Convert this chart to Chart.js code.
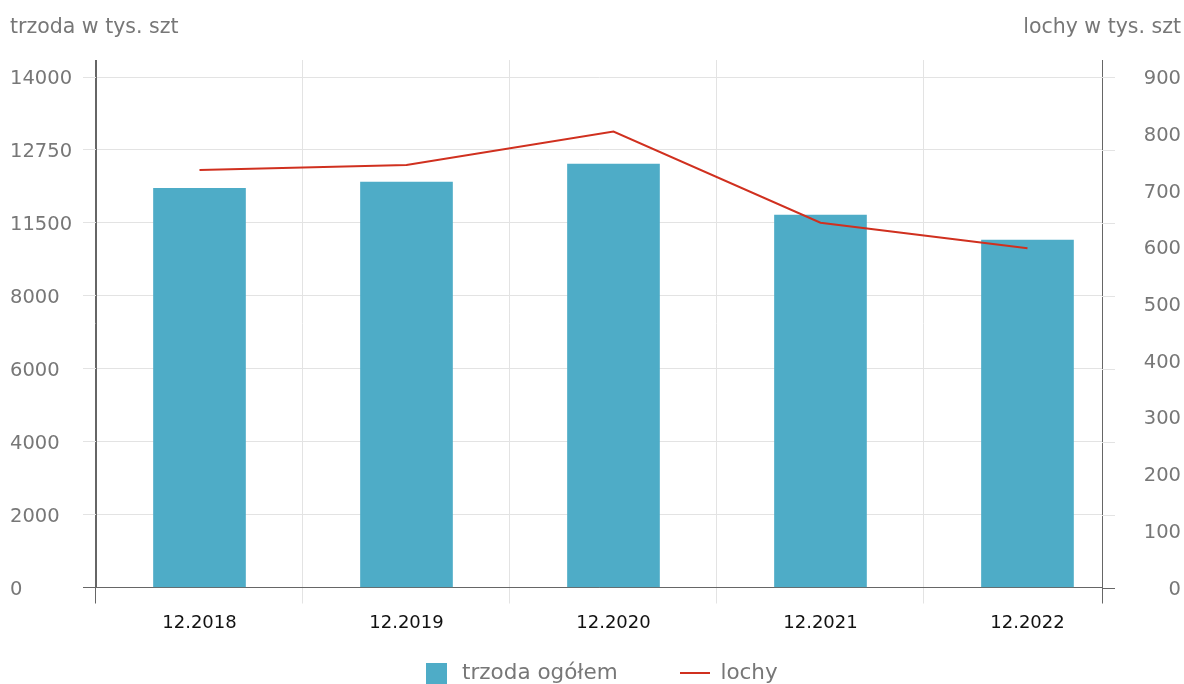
<!DOCTYPE html>
<html>
<head>
<meta charset="utf-8">
<script src="https://cdn.jsdelivr.net/npm/chart.js@4.4.1/dist/chart.umd.min.js"></script>
<style>
  html, body { margin: 0; padding: 0; background: #fff; overflow: hidden; }
  #wrap { position: relative; width: 1184px; height: 743px; }
  .unit { position: absolute; top: 13px; font: 20.5px "DejaVu Sans", sans-serif; color: #777; line-height: 26px; }
  #unitL { left: 10px; }
  #unitR { right: 3px; }
</style>
</head>
<body>
<div id="wrap">
  <canvas id="myChart" width="1184" height="743"></canvas>
  <div class="unit" id="unitL">trzoda w tys. szt</div>
  <div class="unit" id="unitR">lochy w tys. szt</div>
</div>
<script>
'use strict';
// data
const categories = ['12.2018', '12.2019', '12.2020', '12.2021', '12.2022'];
const trzoda = [10950, 11120, 11610, 10215, 9530];
const lochy = [736, 745, 804, 643, 598];
const leftTicks = [0, 2000, 4000, 6000, 8000, 10000, 12000, 14000];
const leftTickLabels = ['0', '2000', '4000', '6000', '8000', '11500', '12750', '14000'];
const rightTicks = [0, 100, 200, 300, 400, 500, 600, 700, 800, 900];

const barColor = '#4eacc7';
const lineColor = '#d0301f';
const gridColor = '#e3e3e3';
const axisColor = '#666';
const fontFamily = '"DejaVu Sans", sans-serif';

// legend markers
function marker(w, h, color) {
    const c = document.createElement('canvas');
    c.width = w;
    c.height = h;
    const g = c.getContext('2d');
    g.fillStyle = color;
    g.fillRect(0, 0, w, h);
    return c;
}

// grid stubs to the right of the right axis + axis tick below, legend nudge
const axisExtras = {
    id: 'axisExtras',
    afterLayout(chart) {
        const lg = chart.legend;
        lg.left += 4;
        lg.right += 4;
        lg.top -= 42;
        lg.bottom -= 42;
    },
    afterDraw(chart) {
        const ctx = chart.ctx;
        const area = chart.chartArea;
        const y = chart.scales.y;
        ctx.save();
        ctx.lineWidth = 1;
        y.ticks.forEach(function (t) {
            const py = Math.round(y.getPixelForValue(t.value)) + 0.5;
            ctx.strokeStyle = t.value === 0 ? axisColor : gridColor;
            ctx.beginPath();
            ctx.moveTo(area.right, py);
            ctx.lineTo(area.right + 13, py);
            ctx.stroke();
        });
        const rx = Math.round(area.right) + 0.5;
        ctx.strokeStyle = axisColor;
        ctx.beginPath();
        ctx.moveTo(rx, area.bottom);
        ctx.lineTo(rx, area.bottom + 16);
        ctx.stroke();
        ctx.restore();
    }
};

const data = {
    datasets: [
        {
            type: 'bar',
            label: 'trzoda ogółem',
            data: trzoda.map((v, i) => ({ x: i, y: v })),
            backgroundColor: barColor,
            barThickness: 92,
            yAxisID: 'y',
            order: 2,
            pointStyle: marker(21, 21, barColor),
        },
        {
            type: 'line',
            label: 'lochy',
            data: lochy.map((v, i) => ({ x: i, y: v })),
            borderColor: lineColor,
            backgroundColor: lineColor,
            borderWidth: 2,
            pointRadius: 0,
            tension: 0,
            yAxisID: 'y2',
            order: 1,
            pointStyle: marker(30, 2, lineColor),
        },
    ],
};

const config = {
    type: 'bar',
    data: data,
    plugins: [axisExtras],
    options: {
        responsive: false,
        animation: false,
        layout: { padding: { top: 60, left: 10, right: 3, bottom: 7 } },
        scales: {
            x: {
                type: 'linear',
                offset: false,
                min: -0.5,
                max: 4.36,
                afterBuildTicks: (s) => { s.ticks = categories.map((c, i) => ({ value: i })); },
                afterFit: (s) => { s.height = 55; },
                grid: {
                    offset: true,
                    color: (c) => (c.index === 0 ? axisColor : gridColor),
                    tickLength: 16,
                },
                border: { color: axisColor },
                ticks: {
                    autoSkip: false,
                    maxRotation: 0,
                    padding: 9,
                    color: '#111',
                    font: { family: fontFamily, size: 18 },
                    callback: (v) => categories[v],
                },
            },
            y: {
                position: 'left',
                min: 0,
                max: 14467,
                afterBuildTicks: (s) => { s.ticks = leftTicks.map((v) => ({ value: v })); },
                afterFit: (s) => { s.width = 86; },
                grid: {
                    color: (c) => (c.tick && c.tick.value === 0 ? axisColor : gridColor),
                    tickLength: 13,
                },
                border: { color: axisColor },
                ticks: {
                    crossAlign: 'far',
                    labelOffset: 2,
                    color: '#777',
                    font: { family: fontFamily, size: 19.5 },
                    callback: (v) => leftTickLabels[leftTicks.indexOf(v)],
                },
            },
            y2: {
                position: 'right',
                min: 0,
                max: 930,
                afterBuildTicks: (s) => { s.ticks = rightTicks.map((v) => ({ value: v })); },
                afterFit: (s) => { s.width = 79; },
                grid: { display: false },
                border: { color: axisColor },
                ticks: {
                    crossAlign: 'far',
                    labelOffset: 2,
                    color: '#777',
                    font: { family: fontFamily, size: 19.5 },
                },
            },
        },
        plugins: {
            tooltip: { enabled: false },
            legend: {
                position: 'bottom',
                labels: {
                    usePointStyle: true,
                    pointStyleWidth: 30,
                    padding: 62,
                    color: '#777',
                    font: { family: fontFamily, size: 21.5 },
                    sort: (a, b) => a.datasetIndex - b.datasetIndex,
                },
            },
        },
    },
};

const myChart = new Chart(document.getElementById('myChart'), config);
</script>
</body>
</html>
